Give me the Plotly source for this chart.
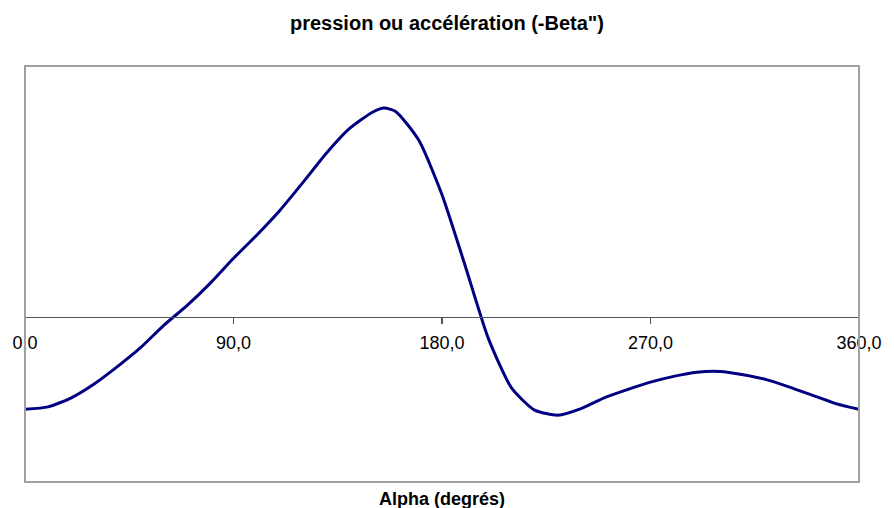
import plotly.graph_objects as go

alpha = [0, 10, 20, 30, 40, 50, 60, 70, 80, 90, 100, 110, 120, 130, 140, 150, 155, 160,
         170, 180, 190, 200, 210, 220, 230, 240, 250, 260, 270, 280, 290, 300, 310, 320,
         330, 340, 350, 360]
beta = [-1.12, -1.09, -0.98, -0.81, -0.60, -0.37, -0.10, 0.14, 0.41, 0.71, 0.99, 1.29,
        1.63, 1.98, 2.28, 2.48, 2.53, 2.49, 2.14, 1.48, 0.62, -0.26, -0.86, -1.13, -1.19,
        -1.11, -0.98, -0.88, -0.79, -0.72, -0.67, -0.66, -0.70, -0.76, -0.85, -0.95,
        -1.05, -1.12]
tick_vals = [0, 90, 180, 270, 360]
tick_text = ["0,0", "90,0", "180,0", "270,0", "360,0"]

title_text = 'pression ou accélération (-Beta")'
x_title = "Alpha (degrés)"

fig = go.Figure()
fig.add_trace(go.Scatter(
    x=alpha, y=beta, mode="lines",
    line=dict(color="#000080", width=3, shape="spline", smoothing=0.6),
    showlegend=False, hoverinfo="skip",
))

y_lo, y_hi = -2.0, 3.04
fig.update_layout(
    width=894, height=508,
    margin=dict(l=24, r=26, t=66, b=26),
    paper_bgcolor="white", plot_bgcolor="white",
    font=dict(family="Liberation Sans, Arial, sans-serif", color="black"),
    title=dict(text="<b>" + title_text + "</b>", x=0.5, xanchor="center",
               y=1 - 23 / 508, yanchor="middle", yref="container",
               font=dict(size=20, color="black")),
    xaxis=dict(range=[0, 360], tickmode="array", tickvals=tick_vals, ticktext=tick_text,
               showgrid=False, zeroline=False, showline=True, linecolor="#555555",
               linewidth=1.5, ticks="outside", ticklen=6, tickcolor="#555555",
               tickwidth=1.5, tickfont=dict(size=18, color="black"),
               ticklabelstandoff=3,
               anchor="free", position=(0 - y_lo) / (y_hi - y_lo)),
    yaxis=dict(range=[y_lo, y_hi], visible=False, showgrid=False, zeroline=False),
    shapes=[dict(type="rect", xref="paper", yref="paper", x0=0, x1=1, y0=0, y1=1,
                 line=dict(color="#a0a0a0", width=2), layer="above")],
    annotations=[dict(text="<b>" + x_title + "</b>", x=0.5, y=0, xref="paper",
                      yref="paper", xanchor="center", yanchor="middle", yshift=-17,
                      showarrow=False, font=dict(size=18, color="black"))],
    hovermode=False,
)

fig.write_html("out.html",
               config={"displayModeBar": False, "staticPlot": True},
               post_script="document.body.style.margin='0';document.body.style.overflow='hidden';")
